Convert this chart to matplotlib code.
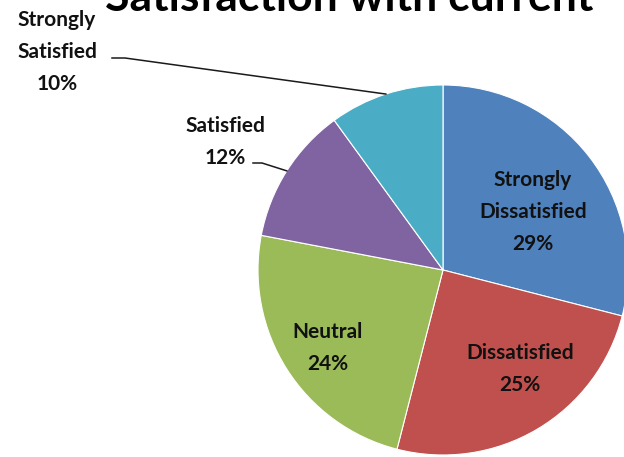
import numpy as np
import matplotlib.pyplot as plt

# survey answers, clockwise from 12 o'clock
categories = ["Strongly\nDissatisfied", "Dissatisfied", "Neutral", "Satisfied", "Strongly\nSatisfied"]
shares = [29, 25, 24, 12, 10]
colors = ["#4F81BD", "#C0504D", "#9BBB59", "#8064A2", "#4BACC6"]

W, H = 624, 457
cx, cy, R = 443, 270, 185  # pie centre / radius in pixels


def px(x, y):
    # pixel position -> data coords (pie radius = 1)
    return (x - cx) / R, (cy - y) / R


fig = plt.figure(figsize=(W / 100, H / 100), dpi=100)
ax = fig.add_axes([0, 0, 1, 1])
wedges, _ = ax.pie(shares, colors=colors, startangle=90, counterclock=False,
                   radius=1, wedgeprops=dict(edgecolor="white", linewidth=0.8))
ax.set_xlim(-cx / R, (W - cx) / R)
ax.set_ylim(-(H - cy) / R, cy / R)
ax.set_aspect("auto")
ax.axis("off")

font = dict(family=["Lato", "DejaVu Sans"], fontweight="bold", fontsize=15,
            color="#111111", ha="center", va="center", linespacing=1.75)

labels = [f"{c}\n{s}%" for c, s in zip(categories, shares)]
# inside labels
inside_pos = [(533, 212), (520, 369), (328, 348)]
for lab, (x, y) in zip(labels[:3], inside_pos):
    ax.text(*px(x, y), lab, **font)

# outside labels with leader lines
outside = [((225, 142), (253, 163), (262, 163)), ((57, 52), (112, 58), (125, 58))]
for i, (pos, start, knee) in zip([3, 4], outside):
    ax.text(*px(*pos), labels[i], **font)
    w = wedges[i]
    mid = np.deg2rad((w.theta1 + w.theta2) / 2)
    xs = [px(*start)[0], px(*knee)[0], np.cos(mid)]
    ys = [px(*start)[1], px(*knee)[1], np.sin(mid)]
    ax.plot(xs, ys, color="#1a1a1a", linewidth=1.1)

fig.text(105 / W, 1 - 11 / H, "Satisfaction with current", ha="left", va="baseline",
         fontsize=32, fontweight="bold", family=["Lato", "DejaVu Sans"])

fig.savefig("out.png", dpi=100)
